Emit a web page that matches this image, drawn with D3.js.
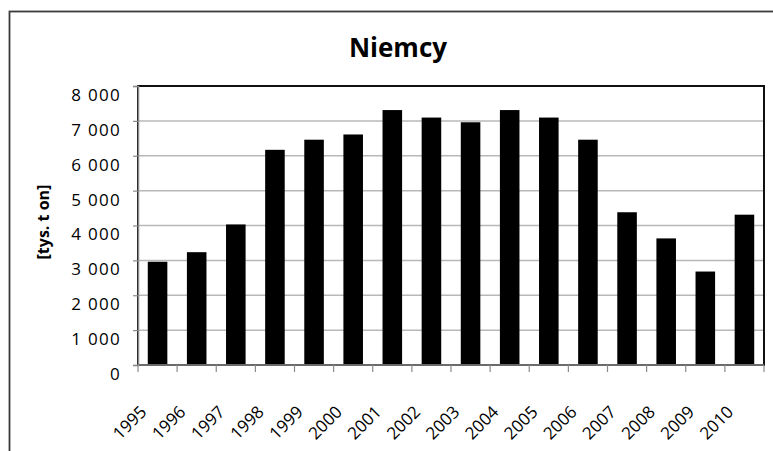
<!DOCTYPE html>
<html>
<head>
<meta charset="utf-8">
<script src="https://cdn.jsdelivr.net/npm/d3@7"></script>
<style>
  body { margin: 0; background: #fff; }
  text { font-family: "Open Sans", "Noto Sans", sans-serif; fill: #000; }
</style>
</head>
<body>
<div id="chart"></div>
<script>
var years = ["1995", "1996", "1997", "1998", "1999", "2000", "2001", "2002",
             "2003", "2004", "2005", "2006", "2007", "2008", "2009", "2010"];
var values = [2960, 3235, 4030, 6170, 6460, 6610, 7310, 7095,
              6960, 7310, 7095, 6460, 4380, 3630, 2680, 4310];
var yTicks = [0, 1000, 2000, 3000, 4000, 5000, 6000, 7000, 8000];
var title = "Niemcy";
var yTitle = "[tys. t on]";

var svgWidth = 773;
var svgHeight = 451;

var margin = {
  top: 86,
  right: 9,
  bottom: 86,
  left: 138
};

var width = svgWidth - margin.left - margin.right;
var height = svgHeight - margin.top - margin.bottom;

var svg = d3.select("#chart")
  .append("svg")
  .attr("width", svgWidth)
  .attr("height", svgHeight);

// outer chart frame (runs off the right and bottom edges)
svg.append("rect")
  .attr("x", 9.5)
  .attr("y", 11.5)
  .attr("width", svgWidth + 20)
  .attr("height", svgHeight + 20)
  .attr("fill", "#fff")
  .attr("stroke", "#3a3a3a")
  .attr("stroke-width", 1.8);

svg.append("text")
  .attr("x", 398)
  .attr("y", 57)
  .attr("text-anchor", "middle")
  .attr("font-size", "26px")
  .attr("font-weight", "bold")
  .text(title);

var chartGroup = svg.append("g")
  .attr("transform", `translate(${margin.left}, ${margin.top})`);

var xBandScale = d3.scaleBand()
  .domain(years)
  .range([0, width])
  .paddingInner(0.5)
  .paddingOuter(0.25);

var yLinearScale = d3.scaleLinear()
  .domain([0, 8000])
  .range([height, 0]);

// gridlines
chartGroup.selectAll(".grid")
  .data(yTicks.slice(1))
  .enter()
  .append("line")
  .attr("x1", 0)
  .attr("x2", width)
  .attr("y1", d => yLinearScale(d))
  .attr("y2", d => yLinearScale(d))
  .attr("stroke", "#b8b8b8")
  .attr("stroke-width", 1.5);

// plot area border (top / right dark)
chartGroup.append("rect")
  .attr("x", 0)
  .attr("y", 0)
  .attr("width", width)
  .attr("height", height)
  .attr("fill", "none")
  .attr("stroke", "#111")
  .attr("stroke-width", 2);

// bars
chartGroup.selectAll(".bar")
  .data(values)
  .enter()
  .append("rect")
  .attr("x", (d, i) => xBandScale(years[i]))
  .attr("y", d => yLinearScale(d))
  .attr("width", xBandScale.bandwidth())
  .attr("height", d => height - yLinearScale(d))
  .attr("fill", "#000");

// y axis
var yAxis = d3.axisLeft(yLinearScale)
  .tickValues(yTicks)
  .tickSize(5)
  .tickPadding(12)
  .tickFormat(d => d3.format(",")(d).replace(/,/g, "\u00a0"));

var yAxisG = chartGroup.append("g").call(yAxis);
yAxisG.select(".domain").attr("stroke", "#8a8a8a").attr("stroke-width", 1.5);
yAxisG.selectAll(".tick line").attr("stroke", "#8a8a8a").attr("stroke-width", 1.2);
yAxisG.selectAll(".tick text")
  .attr("font-family", "Open Sans")
  .attr("font-size", "17px")
  .attr("letter-spacing", "1.3px")
  .attr("dy", "0.85em")
  .attr("fill", "#000");

// x axis: ticks between categories
var tickPos = years.map(d => xBandScale(d) - xBandScale.step() * 0.25);
tickPos.push(width);

chartGroup.append("line")
  .attr("x1", 0)
  .attr("x2", width)
  .attr("y1", height)
  .attr("y2", height)
  .attr("stroke", "#8a8a8a")
  .attr("stroke-width", 1.5);

chartGroup.selectAll(".xtick")
  .data(tickPos)
  .enter()
  .append("line")
  .attr("x1", d => d)
  .attr("x2", d => d)
  .attr("y1", height)
  .attr("y2", height + 7)
  .attr("stroke", "#8a8a8a")
  .attr("stroke-width", 1.2);

chartGroup.selectAll(".xlabel")
  .data(years)
  .enter()
  .append("text")
  .attr("transform", d => `translate(${xBandScale(d) + xBandScale.bandwidth() / 2 - 10}, ${height + 48}) rotate(-45)`)
  .attr("text-anchor", "end")
  .attr("font-size", "17px")
  .text(d => d);

// y axis title
svg.append("text")
  .attr("transform", "translate(49, 222) rotate(-90)")
  .attr("text-anchor", "middle")
  .attr("font-size", "16px")
  .attr("font-weight", "bold")
  .text(yTitle);
</script>
</body>
</html>
